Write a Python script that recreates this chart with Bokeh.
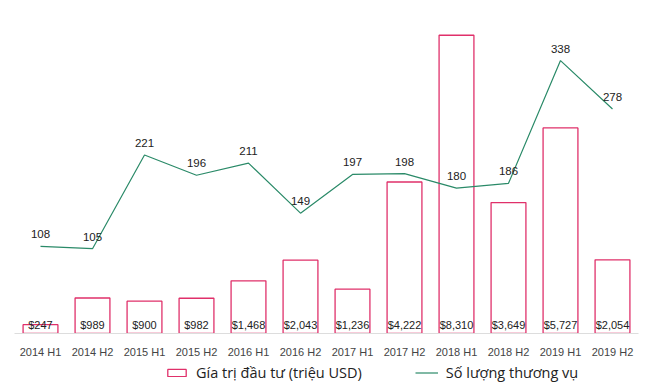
from bokeh.plotting import figure
from bokeh.models import (ColumnDataSource, FactorRange, Range1d,
                          Legend, LegendItem, LabelSet)
from bokeh.layouts import column
from bokeh.core.properties import value
from bokeh.embed import file_html
from bokeh.resources import INLINE

categories = ["2014 H1", "2014 H2", "2015 H1", "2015 H2", "2016 H1", "2016 H2",
              "2017 H1", "2017 H2", "2018 H1", "2018 H2", "2019 H1", "2019 H2"]
investment = [247, 989, 900, 982, 1468, 2043, 1236, 4222, 8310, 3649, 5727, 2054]
deals = [108, 105, 221, 196, 211, 149, 197, 198, 180, 186, 338, 278]
investment_labels = ["${:,}".format(v) for v in investment]
deal_labels = [str(v) for v in deals]
legend_labels = ["Gía trị đầu tư (triệu USD)", "Số lượng thương vụ"]

BAR_COLOR = "#e0306a"
LINE_COLOR = "#2a8a68"

src = ColumnDataSource(dict(cat=categories, inv=investment, deals=deals,
                            inv_lab=investment_labels, deal_lab=deal_labels,
                            zero=[0] * len(categories)))

p = figure(x_range=FactorRange(*categories), y_range=Range1d(0, 9000),
           width=647, height=360, output_backend="svg", toolbar_location=None,
           min_border_left=14, min_border_right=9, min_border_top=10,
           min_border_bottom=25)
p.extra_y_ranges = {"line": Range1d(0, 400)}

bars = p.vbar(x="cat", top="inv", width=0.67, source=src,
              fill_color="white", fill_alpha=0.0, line_color=BAR_COLOR, line_width=1.3)
line = p.line(x="cat", y="deals", source=src, y_range_name="line",
              line_color=LINE_COLOR, line_width=1.2)

bar_labels = LabelSet(x="cat", y="zero", text="inv_lab", source=src,
                      text_align="center", text_baseline="bottom", y_offset=3,
                      text_font=value("Liberation Sans"), text_font_size="11px",
                      text_color="#222222")
line_labels = LabelSet(x="cat", y="deals", text="deal_lab", source=src,
                       y_range_name="line", text_align="center",
                       text_baseline="bottom", y_offset=8,
                       text_font=value("Liberation Sans"), text_font_size="11.5px",
                       text_color="#222222")
p.add_layout(bar_labels)
p.add_layout(line_labels)

p.yaxis.visible = False
p.xgrid.visible = False
p.ygrid.visible = False
p.outline_line_color = None
p.xaxis.axis_line_color = "#dddddd"
p.xaxis.major_tick_line_color = None
p.xaxis.minor_tick_line_color = None
p.xaxis.major_label_text_font = "Liberation Sans"
p.xaxis.major_label_text_font_size = "11px"
p.xaxis.major_label_text_color = "#444444"
p.xaxis.major_label_standoff = 6
p.x_range.range_padding = 0
p.x_range.factor_padding = 0

# legend strip below the chart (renderers hidden, only used for legend glyphs)
lf = figure(width=647, height=28, output_backend="svg", toolbar_location=None,
            min_border_left=0, min_border_right=0, min_border_top=0,
            min_border_bottom=0, x_range=FactorRange(*categories),
            y_range=Range1d(0, 9000))
lf.axis.visible = False
lf.grid.visible = False
lf.outline_line_color = None
lb = lf.vbar(x="cat", top="inv", width=0.67, source=src,
             fill_color="white", fill_alpha=0.0, line_color=BAR_COLOR, line_width=1.3)
ll = lf.line(x="cat", y="deals", source=src, line_color=LINE_COLOR, line_width=1.2)
lb.visible = False
ll.visible = False
legend = Legend(items=[LegendItem(label=legend_labels[0], renderers=[lb]),
                       LegendItem(label=legend_labels[1], renderers=[ll])],
                orientation="horizontal", location=(151, 6),
                label_text_font="Open Sans", label_text_font_size="14.5px",
                label_text_color="#222222", glyph_width=23, glyph_height=9,
                spacing=53, label_standoff=8, border_line_color=None,
                background_fill_alpha=0, padding=2, margin=0,
                inactive_fill_alpha=0.0, click_policy="none")
lf.add_layout(legend, "center")

open("out.html", "w").write(file_html(column(p, lf), INLINE))
